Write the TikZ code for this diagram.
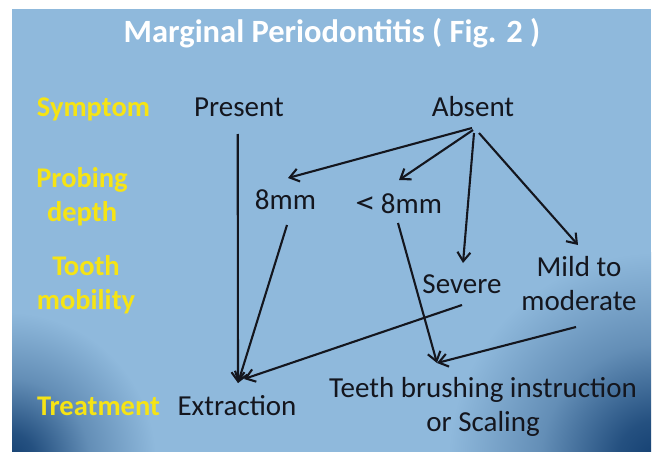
\documentclass[tikz,border=0pt]{standalone}
\usepackage{fontspec}
\setmainfont{Carlito}
\usetikzlibrary{arrows.meta,calc}
\definecolor{panelblue}{RGB}{143,185,220}
\definecolor{edgeblue}{RGB}{18,62,112}
\definecolor{labelyellow}{RGB}{246,228,20}
\definecolor{ink}{RGB}{20,22,30}
\pgfdeclareradialshading{cornerfade}{\pgfpointorigin}{color(0bp)=(edgeblue); color(5bp)=(edgeblue!85!panelblue); color(14bp)=(edgeblue!35!panelblue); color(25bp)=(panelblue); color(50bp)=(panelblue)}

\begin{document}
\begin{tikzpicture}[x=1pt, y=-1pt,
  every node/.style={inner sep=0pt},
  item/.style={font=\fontsize{29}{34}\selectfont, text=ink, anchor=base},
  rowlabel/.style={font=\bfseries\fontsize{28.5}{34}\selectfont, text=labelyellow, anchor=base},
  arr/.style={-{Straight Barb[length=9pt,width=13pt]}, line width=2.1pt, draw=ink}
]
\useasboundingbox[fill=white] (0,0) rectangle (659,452);
\begin{scope}
  \clip (12,9) rectangle (651,452);
  \fill[panelblue] (12,9) rectangle (651,452);
  \shade[shading=cornerfade] (6,462) circle (150);
  \shade[shading=cornerfade] (658,462) circle (210);
\end{scope}

\node[font=\bfseries\fontsize{32.5}{38}\selectfont, text=white, anchor=base] (title) at (332,43) {Marginal Periodontitis ( Fig. 2 )};

% row labels
\node[rowlabel] (symptom) at (93.5,116) {Symptom};
\node[rowlabel, align=center] (probing) at (82,221) {Probing\\depth};
\node[rowlabel, align=center] (tooth) at (86,309) {Tooth\\mobility};
\node[rowlabel] (treatment) at (98.5,415) {Treatment};

% findings
\node[item] (present) at (239,117) {Present};
\node[item] (absent) at (473,117) {Absent};
\node[item] (mm8) at (285.5,209) {8mm};
\node[item] (lt8) at (398.5,213) {\scalebox{1.45}[1.1]{<}\,8mm};
\node[item] (severe) at (462,293) {Severe};
\node[item, align=center] (mild) at (579,310) {Mild to\\moderate};
\node[item] (extraction) at (237,415) {Extraction};
\node[item, align=center] (teeth) at (483,431) {Teeth brushing instruction\\or Scaling};

\coordinate (extin) at ($(extraction.base)+(1,-32)$);
\coordinate (teethin) at ($(teeth.base)+(-46,-68)$);

\draw[arr] ($(absent.base)+(-1,11)$) -- ($(mm8.base)+(2.5,-31)$);
\draw[arr] ($(absent.base)+(0,13)$) -- ($(lt8.base)+(0.5,-33)$);
\draw[arr] ($(absent.base)+(1,16)$) -- ($(severe.base)+(1,-30)$);
\draw[arr] ($(absent.base)+(6,16)$) -- ($(mild.base)+(-1,-65)$);
\draw[arr] ($(present.base)+(-1.3,17)$) -- (extin);
\draw[arr] ($(mm8.base)+(1.5,16)$) -- (extin);
\draw[arr] ($(severe.base)+(0,12)$) -- ($(extraction.base)+(7,-36)$);
\draw[arr] ($(lt8.base)+(-0.5,10)$) -- (teethin);
\draw[arr] ($(mild.base)+(-3,17)$) -- (teethin);
\end{tikzpicture}
\end{document}
